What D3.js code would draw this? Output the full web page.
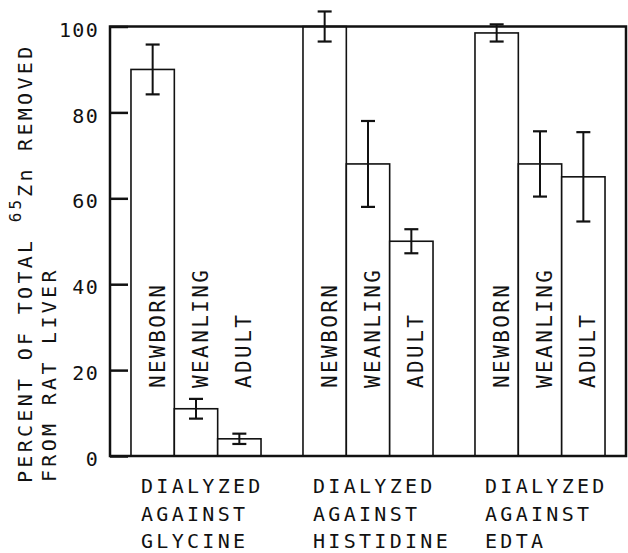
<!DOCTYPE html>
<html>
<head>
<meta charset="utf-8">
<script src="https://cdn.jsdelivr.net/npm/d3@7"></script>
<style>
  body { margin: 0; background: #fff; }
  text { font-family: "DejaVu Sans Mono", monospace; fill: #111; }
</style>
</head>
<body>
<div class="chart"></div>
<script>
// data
const groups = ["glycine", "histidine", "edta"];
const groupLabels = [
  ["DIALYZED", "AGAINST", "GLYCINE"],
  ["DIALYZED", "AGAINST", "HISTIDINE"],
  ["DIALYZED", "AGAINST", "EDTA"]
];
const ages = ["NEWBORN", "WEANLING", "ADULT"];
const glycine = [90, 11, 4];
const glycineErr = [5.8, 2.3, 1.2];
const histidine = [100, 68, 50];
const histidineErr = [3.5, 10, 2.8];
const edta = [98.5, 68, 65];
const edtaErr = [2, 7.6, 10.4];
const yTicks = [0, 20, 40, 60, 80, 100];

const means = [glycine, histidine, edta];
const errs = [glycineErr, histidineErr, edtaErr];

const width = 628, height = 553;
const plotLeft = 110, plotRight = 626, plotTop = 26.5, plotBottom = 456;

const svg = d3.select(".chart").append("svg")
  .attr("width", width)
  .attr("height", height);

const y = d3.scaleLinear().domain([0, 100]).range([plotBottom, plotTop]);

const x0 = d3.scaleBand()
  .domain(groups)
  .range([plotLeft, plotRight])
  .paddingInner(0.244)
  .paddingOuter(0.122);

const x1 = d3.scaleBand()
  .domain(ages)
  .range([0, x0.bandwidth()])
  .padding(0);

// axis with inward ticks
const yAxis = svg.append("g")
  .attr("transform", `translate(${plotLeft},0)`)
  .call(d3.axisLeft(y).tickValues(yTicks).tickSize(-18).tickSizeOuter(0).tickPadding(11));
yAxis.select(".domain").remove();
yAxis.selectAll(".tick line").attr("stroke", "#111").attr("stroke-width", 2.5);
yAxis.selectAll(".tick text")
  .attr("font-size", 20)
  .attr("letter-spacing", 1.3)
  .attr("dy", "0.48em")
  .attr("fill", "#111")
  .style("font-family", "'DejaVu Sans Mono', monospace");

// bars
const rows = [];
groups.forEach((g, gi) => {
  ages.forEach((a, ai) => {
    rows.push({ group: g, age: a, v: means[gi][ai], e: errs[gi][ai] });
  });
});

const bar = svg.append("g").selectAll("g")
  .data(rows)
  .join("g")
  .attr("transform", d => `translate(${x0(d.group) + x1(d.age)},0)`);

bar.append("rect")
  .attr("x", 0)
  .attr("y", d => y(d.v))
  .attr("width", x1.bandwidth())
  .attr("height", d => y(0) - y(d.v))
  .attr("fill", "#fff")
  .attr("stroke", "#111")
  .attr("stroke-width", 1.6);

// error bars
const cap = 7;
const cx = x1.bandwidth() / 2;
bar.append("line")
  .attr("x1", cx).attr("x2", cx)
  .attr("y1", d => y(d.v + d.e))
  .attr("y2", d => y(d.v - d.e))
  .attr("stroke", "#111").attr("stroke-width", 2);
bar.append("line")
  .attr("x1", cx - cap).attr("x2", cx + cap)
  .attr("y1", d => y(d.v + d.e)).attr("y2", d => y(d.v + d.e))
  .attr("stroke", "#111").attr("stroke-width", 2.2);
bar.append("line")
  .attr("x1", cx - cap).attr("x2", cx + cap)
  .attr("y1", d => y(d.v - d.e)).attr("y2", d => y(d.v - d.e))
  .attr("stroke", "#111").attr("stroke-width", 2.2);

// rotated age labels inside bars
bar.append("text")
  .attr("transform", `translate(${cx + 12},388) rotate(-90)`)
  .attr("font-size", 21)
  .attr("letter-spacing", 2.4)
  .text(d => d.age);

// frame
svg.append("rect")
  .attr("x", plotLeft)
  .attr("y", plotTop)
  .attr("width", plotRight - plotLeft)
  .attr("height", plotBottom - plotTop)
  .attr("fill", "none")
  .attr("stroke", "#111")
  .attr("stroke-width", 2.5);

// group labels
const gl = svg.append("g").selectAll("text")
  .data(groups)
  .join("text")
  .attr("font-size", 20)
  .attr("letter-spacing", 3.3);
gl.each(function(g, i) {
  d3.select(this).selectAll("tspan")
    .data(groupLabels[i])
    .join("tspan")
    .attr("x", x0(g) + 10)
    .attr("y", (d, j) => 493 + j * 27.5)
    .text(d => d);
});

// y title
const t1 = svg.append("text")
  .attr("transform", "translate(32,483) rotate(-90)")
  .attr("font-size", 20)
  .attr("letter-spacing", 3.3);
t1.append("tspan").text("PERCENT OF TOTAL ");
t1.append("tspan").attr("dy", -11).attr("font-size", 16).attr("letter-spacing", 3).text("65");
t1.append("tspan").attr("dy", 11).text("Zn REMOVED");

svg.append("text")
  .attr("transform", "translate(56,482) rotate(-90)")
  .attr("font-size", 20)
  .attr("letter-spacing", 3.3)
  .text("FROM RAT LIVER");
</script>
</body>
</html>
